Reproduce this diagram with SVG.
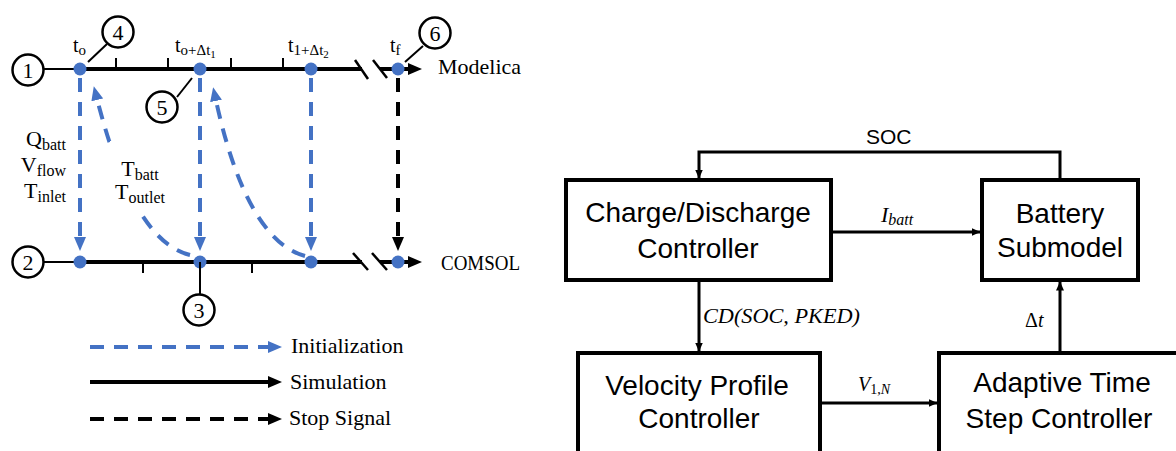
<svg xmlns="http://www.w3.org/2000/svg" width="1176" height="451" viewBox="0 0 1176 451">
  <style>
    .serif { font-family: "Liberation Serif", "Times New Roman", serif; fill: #000; }
    .sans { font-family: "Liberation Sans", Arial, sans-serif; fill: #000; }
    .math { font-family: "Liberation Serif", "Times New Roman", serif; font-style: italic; fill: #000; }
    .axis { stroke: #000; stroke-width: 4; fill: none; }
    .thin { stroke: #000; stroke-width: 2; fill: none; }
    .slash { stroke: #000; stroke-width: 2.5; fill: none; }
    .tick { stroke: #000; stroke-width: 2; }
    .dot { fill: #4472C4; }
    .callout { fill: #fff; stroke: #000; stroke-width: 2.5; }
    .init { stroke: #4472C4; stroke-width: 4; fill: none; stroke-dasharray: 14 10; }
    .stop { stroke: #000; stroke-width: 4; fill: none; stroke-dasharray: 14 10; }
    .box { fill: #fff; stroke: #000; stroke-width: 4; }
    .flow { stroke: #000; stroke-width: 3; fill: none; }
    .box-label { font-size: 28px; text-anchor: middle; }
  </style>
  <defs>
    <marker id="head-blue" viewBox="0 0 14 12" markerWidth="14" markerHeight="12" markerUnits="userSpaceOnUse" refX="5" refY="6" orient="auto">
      <path d="M0,0 L14,6 L0,12 z" fill="#4472C4"/>
    </marker>
    <marker id="head-black" viewBox="0 0 14 12" markerWidth="14" markerHeight="12" markerUnits="userSpaceOnUse" refX="5" refY="6" orient="auto">
      <path d="M0,0 L14,6 L0,12 z" fill="#000"/>
    </marker>
    <marker id="head-small" viewBox="0 0 9 8" markerWidth="9" markerHeight="8" markerUnits="userSpaceOnUse" refX="8.5" refY="4" orient="auto">
      <path d="M0,0 L9,4 L0,8 z" fill="#000"/>
    </marker>
  </defs>

  <!-- Modelica time axis -->
  <g id="timeline-modelica">
    <line class="thin" x1="43" y1="69" x2="76" y2="69"/>
    <line class="axis" x1="80" y1="69" x2="362" y2="69"/>
    <line class="tick" x1="116" y1="58" x2="116" y2="69"/>
    <line class="tick" x1="168" y1="58" x2="168" y2="69"/>
    <line class="tick" x1="231" y1="58" x2="231" y2="69"/>
    <line class="tick" x1="283" y1="58" x2="283" y2="69"/>
    <line class="slash" x1="355" y1="60" x2="368" y2="79"/>
    <line class="slash" x1="373" y1="60" x2="387" y2="78"/>
    <line class="axis" x1="380" y1="69" x2="413" y2="69" marker-end="url(#head-black)"/>
    <circle class="dot" cx="80" cy="69" r="6.5"/>
    <circle class="dot" cx="200" cy="69" r="6.5"/>
    <circle class="dot" cx="311" cy="69" r="6.5"/>
    <circle class="dot" cx="398" cy="69" r="6.5"/>
    <text class="serif" x="73" y="52" font-size="20">t<tspan font-size="15" dy="3">o</tspan></text>
    <text class="serif" x="175" y="52" font-size="20">t<tspan font-size="15" dy="3">o+Δt</tspan><tspan font-size="11" dy="3">1</tspan></text>
    <text class="serif" x="288" y="52" font-size="20">t<tspan font-size="15" dy="3">1+Δt</tspan><tspan font-size="11" dy="3">2</tspan></text>
    <text class="serif" x="390" y="52" font-size="20">t<tspan font-size="15" dy="3">f</tspan></text>
    <text class="serif" x="438" y="74" font-size="22">Modelica</text>
  </g>

  <!-- COMSOL time axis -->
  <g id="timeline-comsol">
    <line class="thin" x1="43" y1="262" x2="76" y2="262"/>
    <line class="axis" x1="80" y1="262" x2="362" y2="262"/>
    <line class="tick" x1="143" y1="262" x2="143" y2="273"/>
    <line class="tick" x1="252" y1="262" x2="252" y2="273"/>
    <line class="slash" x1="353" y1="253" x2="368" y2="270"/>
    <line class="slash" x1="372" y1="253" x2="387" y2="270"/>
    <line class="axis" x1="380" y1="262" x2="413" y2="262" marker-end="url(#head-black)"/>
    <circle class="dot" cx="80" cy="262" r="6.5"/>
    <circle class="dot" cx="200" cy="262" r="6.5"/>
    <circle class="dot" cx="311" cy="262" r="6.5"/>
    <circle class="dot" cx="398" cy="262" r="6.5"/>
    <text class="serif" x="441" y="270" font-size="22" textLength="79" lengthAdjust="spacingAndGlyphs">COMSOL</text>
  </g>

  <!-- Exchanges between the two solvers -->
  <g id="exchanges">
    <line class="init" x1="80" y1="78" x2="80" y2="242" marker-end="url(#head-blue)"/>
    <line class="init" x1="200" y1="78" x2="200" y2="242" marker-end="url(#head-blue)"/>
    <line class="init" x1="311" y1="78" x2="311" y2="242" marker-end="url(#head-blue)"/>
    <line class="stop" x1="398" y1="78" x2="398" y2="242" marker-end="url(#head-black)"/>
    <path class="init" d="M190 255 C150 245 120 190 96 95" marker-end="url(#head-blue)"/>
    <path class="init" d="M305 256 C265 245 235 190 215 96" marker-end="url(#head-blue)"/>
    <rect x="110" y="141" width="62" height="73" fill="#fff"/>
    <text class="serif" x="66" y="146" font-size="22" text-anchor="end">Q<tspan font-size="16" dy="4">batt</tspan></text>
    <text class="serif" x="66" y="172" font-size="22" text-anchor="end">V<tspan font-size="16" dy="4">flow</tspan></text>
    <text class="serif" x="66" y="198" font-size="22" text-anchor="end">T<tspan font-size="16" dy="4">inlet</tspan></text>
    <text class="serif" x="140" y="176" font-size="22" text-anchor="middle">T<tspan font-size="16" dy="4">batt</tspan></text>
    <text class="serif" x="140" y="199" font-size="22" text-anchor="middle">T<tspan font-size="16" dy="4">outlet</tspan></text>
  </g>

  <!-- Numbered callouts -->
  <g id="callout-1">
    <circle class="callout" cx="28" cy="70" r="15.5"/>
    <text class="serif" x="28" y="77.5" font-size="22" text-anchor="middle">1</text>
  </g>
  <g id="callout-2">
    <circle class="callout" cx="28" cy="262" r="15.5"/>
    <text class="serif" x="28" y="269.5" font-size="22" text-anchor="middle">2</text>
  </g>
  <g id="callout-3">
    <line class="thin" x1="200" y1="262" x2="200" y2="294"/>
    <circle class="callout" cx="199" cy="310" r="15.5"/>
    <text class="serif" x="199" y="317.5" font-size="22" text-anchor="middle">3</text>
  </g>
  <g id="callout-4">
    <line class="thin" x1="88" y1="62" x2="107" y2="44"/>
    <circle class="callout" cx="118" cy="32" r="15.5"/>
    <text class="serif" x="118" y="39.5" font-size="22" text-anchor="middle">4</text>
  </g>
  <g id="callout-5">
    <line class="thin" x1="177" y1="97" x2="192" y2="78"/>
    <circle class="callout" cx="162" cy="107" r="15.5"/>
    <text class="serif" x="162" y="114.5" font-size="22" text-anchor="middle">5</text>
  </g>
  <g id="callout-6">
    <line class="thin" x1="405" y1="62" x2="423" y2="46"/>
    <circle class="callout" cx="435" cy="33" r="15.5"/>
    <text class="serif" x="435" y="40.5" font-size="22" text-anchor="middle">6</text>
  </g>

  <!-- Legend -->
  <g id="legend">
    <line class="init" x1="90" y1="347" x2="273" y2="347" stroke-dasharray="15 13" marker-end="url(#head-blue)"/>
    <text class="serif" x="291" y="353" font-size="22">Initialization</text>
    <line class="axis" x1="90" y1="382" x2="273" y2="382" marker-end="url(#head-black)"/>
    <text class="serif" x="290" y="389" font-size="22">Simulation</text>
    <line class="stop" x1="90" y1="419" x2="273" y2="419" stroke-dasharray="16 12" marker-end="url(#head-black)"/>
    <text class="serif" x="289" y="425" font-size="22">Stop Signal</text>
  </g>

  <!-- Controller block diagram -->
  <g id="node-charge">
    <rect class="box" x="566" y="180" width="265" height="100"/>
    <text class="sans box-label" x="698" y="222">Charge/Discharge</text>
    <text class="sans box-label" x="698" y="258">Controller</text>
  </g>
  <g id="node-battery">
    <rect class="box" x="982" y="180" width="156" height="100"/>
    <text class="sans box-label" x="1060" y="223">Battery</text>
    <text class="sans box-label" x="1060" y="257">Submodel</text>
  </g>
  <g id="node-velocity">
    <rect class="box" x="578" y="353" width="242" height="120"/>
    <text class="sans box-label" x="697" y="395">Velocity Profile</text>
    <text class="sans box-label" x="699" y="428">Controller</text>
  </g>
  <g id="node-adaptive">
    <rect class="box" x="939" y="353" width="250" height="120"/>
    <text class="sans box-label" x="1062" y="392">Adaptive Time</text>
    <text class="sans box-label" x="1059" y="428">Step Controller</text>
  </g>

  <g id="connectors">
    <path class="flow" d="M1060 178 V152 H699 V178" marker-end="url(#head-small)"/>
    <text class="sans" x="866" y="144" font-size="21">SOC</text>
    <line class="flow" x1="833" y1="232" x2="980" y2="232" marker-end="url(#head-small)"/>
    <text class="math" x="881" y="222" font-size="22">I<tspan font-size="16" dy="3">batt</tspan></text>
    <line class="flow" x1="699" y1="282" x2="699" y2="351" marker-end="url(#head-small)"/>
    <text class="math" x="703" y="323" font-size="20" textLength="157" lengthAdjust="spacingAndGlyphs">CD(SOC, PKED)</text>
    <line class="flow" x1="822" y1="403" x2="937" y2="403" marker-end="url(#head-small)"/>
    <text class="math" x="858" y="391" font-size="20">V<tspan font-size="14" dy="3" font-style="normal">1,</tspan><tspan font-size="14">N</tspan></text>
    <line class="flow" x1="1060" y1="351" x2="1060" y2="282" marker-end="url(#head-small)"/>
    <text class="serif" x="1025" y="327" font-size="20">Δ<tspan font-style="italic">t</tspan></text>
  </g>
</svg>
